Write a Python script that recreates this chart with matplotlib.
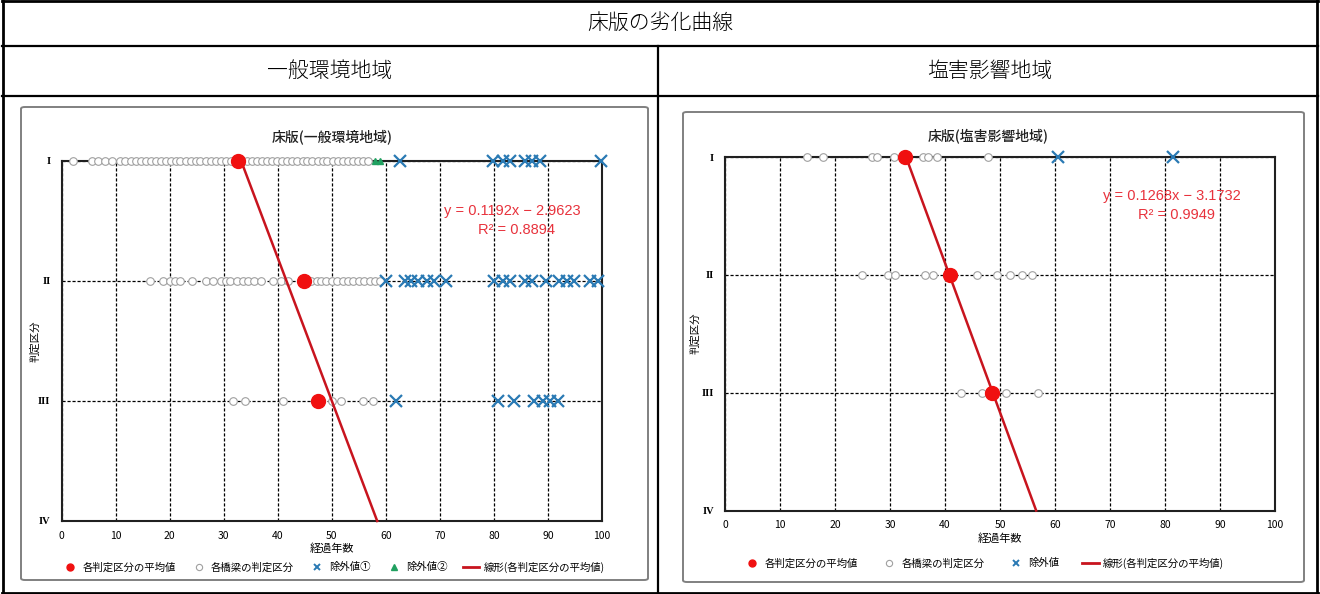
import matplotlib
matplotlib.use("Agg")
import matplotlib.pyplot as plt
from matplotlib.patches import FancyBboxPatch
from matplotlib.lines import Line2D

plt.rcParams["font.family"] = ["Noto Sans CJK JP", "DejaVu Sans"]

# ---------------- data ----------------
table_title = "床版の劣化曲線"
region_names = ["一般環境地域", "塩害影響地域"]
chart_titles = ["床版(一般環境地域)", "床版(塩害影響地域)"]
grade_labels = ["I", "II", "III", "IV"]
grade_values = [1, 2, 3, 4]
x_ticks = [0, 10, 20, 30, 40, 50, 60, 70, 80, 90, 100]
x_label = "経過年数"
y_label = "判定区分"

# general environment area
gen_mean_x = [32.6, 44.8, 47.5]
gen_mean_grade = [1, 2, 3]
gen_bridge_I = [2.2, 5.6, 6.8, 8.0, 9.4, 10.8, 11.8, 12.8, 13.8, 14.8, 15.6, 16.5,
                17.4, 18.4, 19.3, 20.2, 21.1, 22.0, 23.0, 23.9, 24.8, 25.7, 26.7,
                27.6, 28.5, 29.5, 30.4, 31.4, 33.4, 34.3, 35.2, 36.2, 37.1, 38.0,
                39.0, 39.9, 40.8, 41.8, 42.7, 43.6, 44.6, 45.5, 46.4, 47.4, 48.3,
                49.2, 50.2, 51.1, 52.0, 53.0, 53.9, 54.8, 55.7, 56.7]
gen_bridge_II = [16.4, 18.8, 20.1, 21.0, 21.9, 24.1, 26.8, 28.1, 29.6, 30.5, 31.1,
                 32.4, 33.6, 34.5, 35.7, 37.0, 39.2, 40.7, 41.9, 46.2, 47.2, 48.1,
                 49.0, 50.0, 51.0, 52.0, 53.0, 54.0, 55.0, 56.0, 57.0, 58.0, 59.0]
gen_bridge_III = [31.8, 33.9, 40.9, 50.0, 51.8, 55.8, 57.6]
gen_excl1_I = [62.6, 79.8, 81.6, 82.9, 85.7, 87.0, 88.5, 99.9]
gen_excl1_II = [60.1, 63.5, 64.7, 66.0, 67.7, 69.0, 71.2, 80.1, 81.6, 82.9, 85.7,
                87.1, 89.7, 92.1, 93.6, 94.9, 97.7, 99.2]
gen_excl1_III = [61.8, 80.7, 83.8, 87.5, 89.1, 90.3, 91.8]
gen_excl2_I = [58.0, 59.0]
gen_slope, gen_intercept, gen_r2 = 0.1192, -2.9623, 0.8894

# salt damage area
salt_mean_x = [32.8, 41.0, 48.5]
salt_mean_grade = [1, 2, 3]
salt_bridge_I = [14.9, 17.8, 26.7, 27.6, 30.7, 36.0, 36.9, 38.5, 47.8]
salt_bridge_II = [24.9, 29.6, 30.9, 36.4, 37.8, 45.8, 49.5, 51.8, 54.0, 55.8]
salt_bridge_III = [42.9, 46.8, 51.1, 56.9]
salt_excl_I = [60.5, 81.5]
salt_slope, salt_intercept, salt_r2 = 0.1268, -3.1732, 0.9949

legend_gen = ["各判定区分の平均値", "各橋梁の判定区分", "除外値①", "除外値②",
              "線形(各判定区分の平均値)"]
legend_salt = ["各判定区分の平均値", "各橋梁の判定区分", "除外値",
               "線形(各判定区分の平均値)"]

# ---------------- styles ----------------
W, H = 1320, 594
RED_DOT = "#f01010"
RED_LINE = "#c8141e"
EQ_RED = "#e8323c"
X_BLUE = "#2a7ab4"
TRI_GREEN = "#20a060"
CIRCLE_GREY = "#a0a0a0"

fig = plt.figure(figsize=(W / 100, H / 100), dpi=100)


def fx(px):
    return px / W


def fy(py):
    return 1 - py / H


def add_axes_px(left, top, right, bottom):
    return fig.add_axes([fx(left), fy(bottom), (right - left) / W, (bottom - top) / H])


# ---------------- table frame ----------------
def hline(y, x0, x1, lw):
    fig.add_artist(Line2D([fx(x0), fx(x1)], [fy(y), fy(y)], color="black", lw=lw))


def vline(x, y0, y1, lw):
    fig.add_artist(Line2D([fx(x), fx(x)], [fy(y0), fy(y1)], color="black", lw=lw))


hline(1, 2, 1318, 2.0)
hline(593, 2, 1318, 2.0)
vline(3, 1, 593, 2.0)
vline(1317, 1, 593, 2.0)
hline(46, 2, 1318, 1.6)
hline(96, 2, 1318, 1.6)
vline(658, 46, 593, 1.6)

fig.text(fx(660), fy(23), table_title, ha="center", va="center", fontsize=15,
         weight="light")
fig.text(fx(330), fy(71), region_names[0], ha="center", va="center", fontsize=15,
         weight="light")
fig.text(fx(990), fy(71), region_names[1], ha="center", va="center", fontsize=15,
         weight="light")

# chart area frames
for (l, t, r, b) in [(21, 107, 648, 580), (683, 112, 1304, 582)]:
    fig.add_artist(FancyBboxPatch((fx(l), fy(b)), (r - l) / W, (b - t) / H,
                                  boxstyle="round,pad=0,rounding_size=0.003",
                                  transform=fig.transFigure, fill=False,
                                  edgecolor="#808080", lw=1.4))


def draw_chart(ax, title_xy, title, means_x, means_g, bridges, excl1, excl2,
               slope, intercept, r2, eq_xy, labels, legend_xy, ylabel_px, colspace):
    ax.set_xlim(0, 100)
    ax.set_ylim(4, 1)
    ax.set_xticks(x_ticks)
    ax.set_yticks(grade_values)
    ax.set_yticklabels(grade_labels, family=["Liberation Serif", "DejaVu Serif"],
                       fontsize=10.5, weight="bold")
    ax.tick_params(axis="both", length=0, labelsize=7.5)
    ax.tick_params(axis="y", pad=8)
    ax.tick_params(axis="x", pad=7)
    ax.grid(True, color="black", linestyle=(0, (2.5, 1.5)), lw=0.9)
    for s in ax.spines.values():
        s.set_linewidth(1.5)
        s.set_color("#202020")
    ax.set_xlabel(x_label, fontsize=8, labelpad=2)
    ax.set_ylabel(y_label, fontsize=7.5)
    bbox = ax.get_position()
    ax.yaxis.set_label_coords((fx(ylabel_px) - bbox.x0) / bbox.width, 0.5)

    # bridges by grade
    for g, xs in bridges:
        ax.plot(xs, [g] * len(xs), linestyle="none", marker="o", ms=5.5,
                mfc="white", mec=CIRCLE_GREY, mew=0.8, clip_on=False, zorder=3)
    for g, xs in excl1:
        ax.plot(xs, [g] * len(xs), linestyle="none", marker="x", ms=9,
                mec=X_BLUE, mew=1.6, clip_on=False, zorder=4)
    for g, xs in excl2:
        ax.plot(xs, [g] * len(xs), linestyle="none", marker="^", ms=5,
                mfc=TRI_GREEN, mec=TRI_GREEN, clip_on=False, zorder=4)

    # trend line from the fitted coefficients, grade I to grade IV
    x_start = (1 - intercept) / slope
    x_end = (4 - intercept) / slope
    ax.plot([x_start, x_end], [slope * x_start + intercept, slope * x_end + intercept],
            color=RED_LINE, lw=1.8, zorder=5, clip_on=False)
    ax.plot(means_x, means_g, linestyle="none", marker="o", ms=10,
            mfc=RED_DOT, mec=RED_DOT, clip_on=False, zorder=6)

    fig.text(fx(title_xy[0]), fy(title_xy[1]), title, ha="center", va="center",
             fontsize=10, color="#202020", weight="medium")
    fig.text(fx(eq_xy[0]), fy(eq_xy[1]),
             f"y = {slope:.4f}x − {abs(intercept):.4f}", ha="center", va="center",
             fontsize=10.5, color=EQ_RED, family=["Liberation Sans", "DejaVu Sans"])
    fig.text(fx(eq_xy[0] + 4), fy(eq_xy[1] + 19), f"R² = {r2:.4f}",
             ha="center", va="center", fontsize=10.5, color=EQ_RED,
             family=["Liberation Sans", "DejaVu Sans"])

    handles = [
        Line2D([], [], linestyle="none", marker="o", ms=5, mfc=RED_DOT, mec=RED_DOT),
        Line2D([], [], linestyle="none", marker="o", ms=4.5, mfc="white",
               mec=CIRCLE_GREY, mew=0.8),
        Line2D([], [], linestyle="none", marker="x", ms=5, mec=X_BLUE, mew=1.4),
    ]
    if excl2:
        handles.append(Line2D([], [], linestyle="none", marker="^", ms=4,
                              mfc=TRI_GREEN, mec=TRI_GREEN))
    handles.append(Line2D([], [], color=RED_LINE, lw=2))
    fig.legend(handles, labels, loc="center",
               bbox_to_anchor=(fx(legend_xy[0]), fy(legend_xy[1])),
               ncol=len(labels), frameon=False, fontsize=7.5, handlelength=1.6,
               handletextpad=0.4, columnspacing=colspace, borderaxespad=0)


ax_gen = add_axes_px(61.5, 161, 602, 521)
draw_chart(ax_gen, (332, 137), chart_titles[0], gen_mean_x, gen_mean_grade,
           [(1, gen_bridge_I), (2, gen_bridge_II), (3, gen_bridge_III)],
           [(1, gen_excl1_I), (2, gen_excl1_II), (3, gen_excl1_III)],
           [(1, gen_excl2_I)],
           gen_slope, gen_intercept, gen_r2, (512, 211), legend_gen, (333, 567),
           40, 1.4)

ax_salt = add_axes_px(725, 157, 1275, 510.5)
draw_chart(ax_salt, (988, 137), chart_titles[1], salt_mean_x, salt_mean_grade,
           [(1, salt_bridge_I), (2, salt_bridge_II), (3, salt_bridge_III)],
           [(1, salt_excl_I)],
           [],
           salt_slope, salt_intercept, salt_r2, (1172, 196), legend_salt, (984, 563),
           700, 2.2)

fig.savefig("out.png", dpi=100, facecolor="white")
